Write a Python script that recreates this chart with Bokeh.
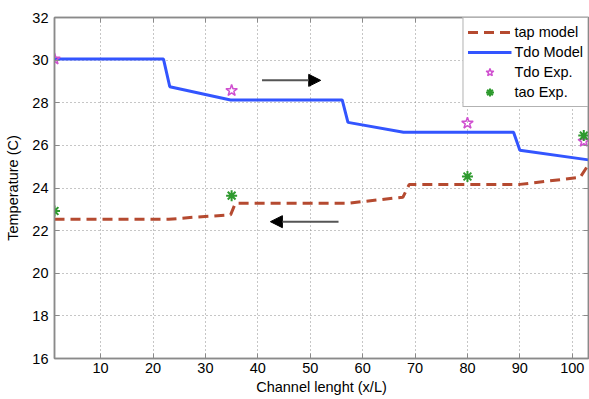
from bokeh.plotting import figure
from bokeh.models import Range1d, LinearAxis, FixedTicker, Legend, LegendItem, Arrow, NormalHead
from bokeh.embed import file_html
from bokeh.resources import INLINE

# ---- data ----
x_tdo_model = [1.2, 22.0, 23.2, 34.8, 56.1, 57.2, 67.8, 88.8, 90.0, 103.1]
y_tdo_model = [30.05, 30.05, 28.75, 28.13, 28.13, 27.08, 26.62, 26.62, 25.77, 25.32]

x_tap_model = [1.2, 23.0, 28.4, 34.8, 35.7, 57.0, 67.7, 68.9, 90.0, 101.5, 103.1]
y_tap_model = [22.53, 22.53, 22.64, 22.74, 23.28, 23.28, 23.57, 24.17, 24.17, 24.5, 25.1]

x_exp = [1.2, 35.0, 80.0, 102.2]
y_tdo_exp = [30.05, 28.57, 27.04, 26.19]
y_tao_exp = [22.92, 23.64, 24.54, 26.46]

x_ticks = [10, 20, 30, 40, 50, 60, 70, 80, 90, 100]
y_ticks = [16, 18, 20, 22, 24, 26, 28, 30, 32]

arrow_right = (40.8, 52.0, 29.05)   # x_start, x_end, y
arrow_left = (55.4, 42.4, 22.42)

FONT = "Liberation Sans"
GRAY = "#8a8a8a"

p = figure(output_backend="svg", toolbar_location=None,
           width=589, height=399,
           min_border_left=54, min_border_top=17, min_border_right=1, min_border_bottom=41,
           x_range=Range1d(1.2, 103.1), y_range=Range1d(16, 32),
           x_axis_label="Channel lenght (x/L)", y_axis_label="Temperature (C)")

p.background_fill_color = "white"
p.border_fill_color = "white"
p.outline_line_color = GRAY
p.outline_line_width = 1.5

for ax in (p.xaxis[0], p.yaxis[0]):
    ax.axis_line_color = GRAY
    ax.axis_line_width = 1.5
    ax.major_tick_in = 5
    ax.major_tick_out = 0
    ax.major_tick_line_color = GRAY
    ax.minor_tick_line_color = None
    ax.major_label_text_font = FONT
    ax.major_label_text_font_size = "14.5px"
    ax.major_label_text_color = "#000000"
    ax.axis_label_text_font = FONT
    ax.axis_label_text_font_size = "14.5px"
    ax.axis_label_text_font_style = "normal"
    ax.axis_label_text_color = "#000000"

p.xaxis[0].ticker = FixedTicker(ticks=x_ticks)
p.yaxis[0].ticker = FixedTicker(ticks=y_ticks)
p.xaxis[0].major_label_standoff = 4
p.xaxis[0].axis_label_standoff = 3
p.yaxis[0].major_label_standoff = 6
p.yaxis[0].axis_label_standoff = 8

# mirrored ticks on right and top
rax = LinearAxis(ticker=FixedTicker(ticks=y_ticks), major_label_text_font_size="0px",
                 major_tick_in=5, major_tick_out=0, major_tick_line_color=GRAY,
                 minor_tick_line_color=None, axis_line_color=GRAY, axis_line_width=1.5,
                 major_label_standoff=0)
rax.major_label_text_alpha = 0
p.add_layout(rax, "right")
tax = LinearAxis(ticker=FixedTicker(ticks=x_ticks), major_label_text_font_size="0px",
                 major_tick_in=5, major_tick_out=0, major_tick_line_color=GRAY,
                 minor_tick_line_color=None, axis_line_color=GRAY, axis_line_width=1.5,
                 major_label_standoff=0)
tax.major_label_text_alpha = 0
p.add_layout(tax, "above")

p.xgrid.ticker = FixedTicker(ticks=x_ticks)
p.ygrid.ticker = FixedTicker(ticks=y_ticks)
p.grid.grid_line_color = "#8c8c8c"
p.grid.grid_line_dash = "1 3"
p.grid.grid_line_width = 1

r_tap = p.line(x_tap_model, y_tap_model, line_color="#b54a30", line_width=3, line_dash="10 6")
r_tdo = p.line(x_tdo_model, y_tdo_model, line_color="#3355ff", line_width=3)
r_tdo_exp = p.scatter(x_exp, y_tdo_exp, marker="star", size=12, fill_color=None,
                      line_color="#d050d0", line_width=1.5)
r_tao_exp = p.scatter(x_exp, y_tao_exp, marker="asterisk", size=11,
                      line_color="#2e9a2e", line_width=2)

for (xs, xe, yy) in (arrow_right, arrow_left):
    p.add_layout(Arrow(end=NormalHead(size=12, fill_color="black", line_color="black"),
                       x_start=xs, y_start=yy, x_end=xe, y_end=yy,
                       line_color="#555555", line_width=2))

legend = Legend(items=[
    LegendItem(label="tap model", renderers=[r_tap]),
    LegendItem(label="Tdo Model", renderers=[r_tdo]),
    LegendItem(label="Tdo Exp.", renderers=[r_tdo_exp]),
    LegendItem(label="tao Exp.", renderers=[r_tao_exp]),
], location="top_right")
legend.margin = 0
legend.padding = 4
legend.spacing = 0
legend.glyph_width = 44
legend.glyph_height = 20
legend.label_height = 20
legend.label_standoff = 3
legend.label_text_font = FONT
legend.label_text_font_size = "14.5px"
legend.label_text_color = "#000000"
legend.border_line_color = "#666666"
legend.border_line_width = 1.5
legend.background_fill_color = "white"
legend.background_fill_alpha = 1
p.add_layout(legend)

open("out.html", "w").write(file_html(p, INLINE))
